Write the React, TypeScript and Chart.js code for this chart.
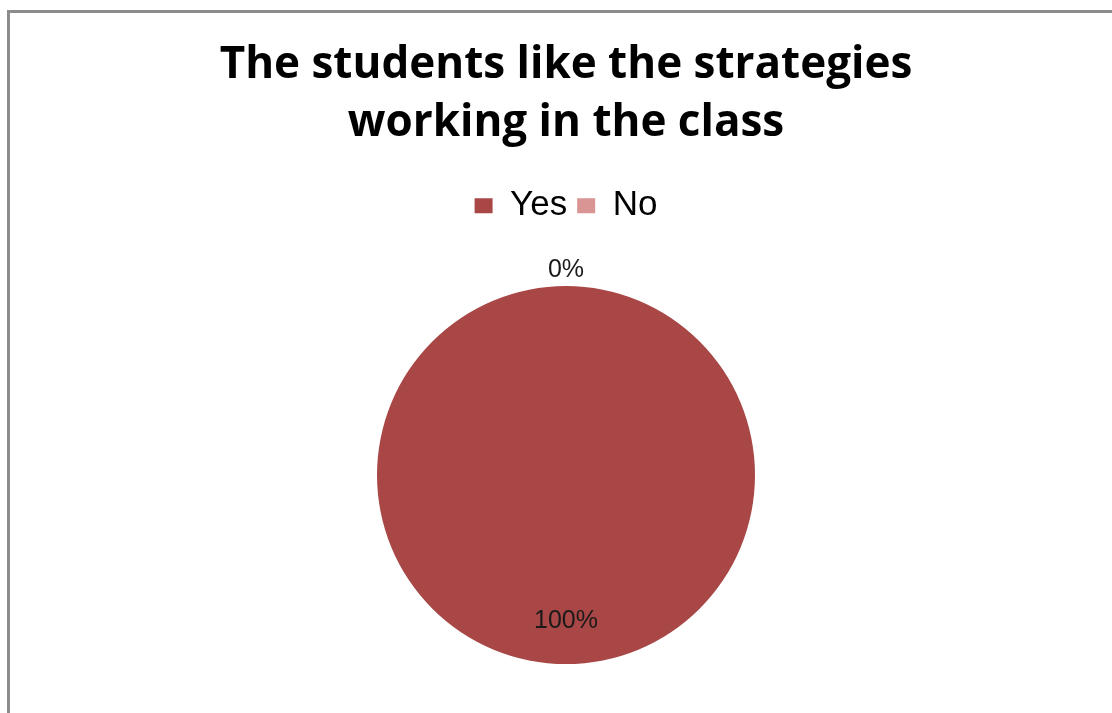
import React, { useEffect, useRef } from "react";
import { Chart, registerables } from "chart.js";

Chart.register(...registerables);

const titleLines = ["The students like the strategies", "working in the class"];
const categories = ["Yes", "No"];
const values = [100, 0];
const percentLabels = ["100%", "0%"];
const colors = ["#A84745", "#D99594"];

const labelPlugin = {
  id: "pieLabels",
  afterDatasetsDraw(chart: any) {
    const meta = chart.getDatasetMeta(0);
    const ctx = chart.ctx;
    ctx.save();
    ctx.font = "25px 'Liberation Sans', Arial, sans-serif";
    ctx.fillStyle = "#1a1a1a";
    ctx.textAlign = "center";
    ctx.textBaseline = "middle";
    meta.data.forEach((arc: any, i: number) => {
      const { x, y, startAngle, endAngle, outerRadius } = arc.getProps(
        ["x", "y", "startAngle", "endAngle", "outerRadius"],
        true
      );
      const mid = (startAngle + endAngle) / 2;
      const r = values[i] === 0 ? outerRadius + 16 : outerRadius * 0.77;
      ctx.fillText(percentLabels[i], x + Math.cos(mid) * r, y + Math.sin(mid) * r);
    });
    ctx.restore();
  },
};

export default function App() {
  const ref = useRef<HTMLCanvasElement>(null);
  useEffect(() => {
    if (!ref.current) return;
    const chart = new Chart(ref.current, {
      type: "pie",
      data: {
        labels: categories,
        datasets: [
          {
            data: values,
            backgroundColor: colors,
            borderWidth: 0,
            radius: 189,
          },
        ],
      },
      options: {
        animation: false,
        responsive: false,
        maintainAspectRatio: false,
        layout: { padding: { left: 20, right: 0, top: 8, bottom: 0 } },
        plugins: {
          title: {
            display: true,
            text: titleLines,
            color: "#000",
            font: { family: "'Open Sans', sans-serif", size: 44, weight: "bold", lineHeight: 1.32 },
            padding: { top: 28, bottom: 26 },
          },
          legend: {
            display: true,
            position: "top",
            labels: {
              color: "#000",
              font: { family: "'Liberation Sans', Arial, sans-serif", size: 35 },
              boxWidth: 18,
              boxHeight: 15,
              padding: 10,
            },
          },
          tooltip: { enabled: false },
        },
      },
      plugins: [labelPlugin],
    });
    return () => chart.destroy();
  }, []);
  return (
    <div style={{ position: "absolute", left: 0, top: 0, width: 1112, height: 713, background: "#fff", overflow: "hidden" }}>
      <div
        style={{
          position: "absolute",
          left: 7,
          top: 10,
          width: 1120,
          height: 720,
          borderTop: "3px solid #8c8c8c",
          borderLeft: "3px solid #8c8c8c",
        }}
      />
      <canvas ref={ref} width={1112} height={717} style={{ position: "absolute", left: 0, top: 0 }} />
    </div>
  );
}
